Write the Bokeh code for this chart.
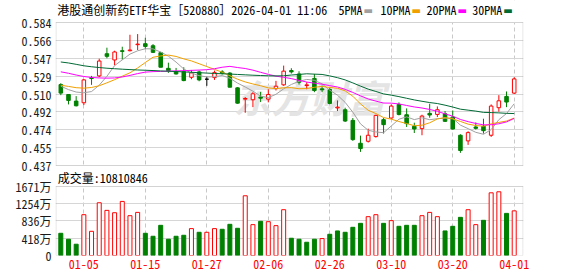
from bokeh.plotting import figure
from bokeh.models import (ColumnDataSource, FixedTicker, Label, Range1d, Grid, BoxAnnotation)
from bokeh.embed import file_html
from bokeh.resources import INLINE

FONT = "Noto Sans Mono CJK SC"

# ---------------- data ----------------
dates = ["12-29", "12-30", "12-31",
         "01-05", "01-06", "01-07", "01-08", "01-09",
         "01-12", "01-13", "01-14", "01-15", "01-16",
         "01-19", "01-20", "01-21", "01-22", "01-23",
         "01-26", "01-27", "01-28", "01-29", "01-30",
         "02-02", "02-03", "02-04", "02-05", "02-06",
         "02-09", "02-10", "02-11", "02-12", "02-13",
         "02-24", "02-25", "02-26", "02-27",
         "03-02", "03-03", "03-04", "03-05", "03-06",
         "03-09", "03-10", "03-11", "03-12", "03-13",
         "03-16", "03-17", "03-18", "03-19", "03-20",
         "03-23", "03-24", "03-25", "03-26", "03-27",
         "03-30", "03-31", "04-01"]

opens = [0.5202, 0.5100, 0.5032, 0.5015, 0.5274, 0.5291, 0.5519, 0.5455, 0.5550, 0.5550,
         0.5612, 0.5622, 0.5601, 0.5530, 0.5369, 0.5335, 0.5335, 0.5277, 0.5332, 0.5257,
         0.5274, 0.5332, 0.5320, 0.5168, 0.5052, 0.5046, 0.5073, 0.5052, 0.5160, 0.5199,
         0.5346, 0.5311, 0.5192, 0.5265, 0.5158, 0.5151, 0.4962, 0.4943, 0.4834, 0.4599,
         0.4619, 0.4667, 0.4841, 0.4858, 0.4998, 0.4892, 0.4773, 0.4749, 0.4906, 0.4895,
         0.4902, 0.4868, 0.4681, 0.4623, 0.4766, 0.4773, 0.4681, 0.4964, 0.5080, 0.5114]
highs = [0.5216, 0.5100, 0.5083, 0.5257, 0.5291, 0.5468, 0.5581, 0.5550, 0.5591, 0.5714,
         0.5721, 0.5683, 0.5618, 0.5540, 0.5427, 0.5373, 0.5380, 0.5352, 0.5346, 0.5284,
         0.5346, 0.5350, 0.5330, 0.5175, 0.5073, 0.5124, 0.5127, 0.5154, 0.5240, 0.5397,
         0.5370, 0.5339, 0.5226, 0.5311, 0.5192, 0.5168, 0.5039, 0.4964, 0.4858, 0.4677,
         0.4749, 0.4892, 0.4858, 0.4998, 0.5018, 0.4957, 0.4810, 0.4892, 0.5005, 0.4977,
         0.4930, 0.4936, 0.4691, 0.4722, 0.4813, 0.4851, 0.4998, 0.5093, 0.5131, 0.5277]
lows = [0.5093, 0.4998, 0.4977, 0.4991, 0.5199, 0.5277, 0.5472, 0.5400, 0.5458, 0.5543,
        0.5557, 0.5567, 0.5526, 0.5380, 0.5322, 0.5305, 0.5236, 0.5257, 0.5236, 0.5189,
        0.5250, 0.5305, 0.5175, 0.5005, 0.4912, 0.4970, 0.5022, 0.5019, 0.5141, 0.5189,
        0.5315, 0.5202, 0.5154, 0.5124, 0.5124, 0.4998, 0.4930, 0.4817, 0.4623, 0.4510,
        0.4606, 0.4657, 0.4698, 0.4851, 0.4885, 0.4766, 0.4704, 0.4681, 0.4861, 0.4868,
        0.4817, 0.4739, 0.4500, 0.4582, 0.4739, 0.4698, 0.4664, 0.4923, 0.4970, 0.5107]
closes = [0.5114, 0.5039, 0.4984, 0.5250, 0.5264, 0.5444, 0.5492, 0.5537, 0.5543, 0.5557,
          0.5618, 0.5594, 0.5533, 0.5380, 0.5345, 0.5311, 0.5243, 0.5322, 0.5250, 0.5257,
          0.5325, 0.5318, 0.5175, 0.5011, 0.5059, 0.5107, 0.5062, 0.5100, 0.5185, 0.5340,
          0.5332, 0.5226, 0.5199, 0.5141, 0.5148, 0.5008, 0.4970, 0.4827, 0.4636, 0.4544,
          0.4681, 0.4885, 0.4790, 0.4981, 0.4895, 0.4800, 0.4745, 0.4878, 0.4889, 0.4943,
          0.4824, 0.4745, 0.4524, 0.4708, 0.4752, 0.4728, 0.4981, 0.5035, 0.5022, 0.5260]
prev_close = 0.5190  # close of the session before the first bar (colours bar 0's volume)

# volume in 万 (10k shares)
volumes = [538, 394, 273, 988, 586, 1277, 1093, 1036, 1310, 964,
           1044, 538, 466, 731, 394, 466, 490, 651, 562, 562,
           651, 635, 755, 659, 1446, 747, 828, 819, 723, 1109,
           418, 394, 321, 394, 410, 514, 595, 562, 683, 779,
           940, 988, 779, 844, 707, 731, 731, 964, 1044, 940,
           595, 707, 924, 1109, 747, 852, 1518, 1543, 1020, 1081.0846]

ma5 = [0.5185, 0.5150, 0.5125, 0.5118, 0.5130, 0.5196, 0.5287, 0.5397, 0.5456, 0.5515,
       0.5549, 0.5570, 0.5569, 0.5536, 0.5494, 0.5433, 0.5362, 0.5320, 0.5294, 0.5280,
       0.5282, 0.5295, 0.5267, 0.5217, 0.5177, 0.5134, 0.5083, 0.5068, 0.5102, 0.5158,
       0.5203, 0.5235, 0.5255, 0.5246, 0.5209, 0.5144, 0.5093, 0.5019, 0.4918, 0.4798,
       0.4732, 0.4715, 0.4707, 0.4776, 0.4846, 0.4870, 0.4842, 0.4860, 0.4841, 0.4851,
       0.4856, 0.4856, 0.4785, 0.4749, 0.4711, 0.4691, 0.4739, 0.4841, 0.4904, 0.5005]
ma10 = [0.5195, 0.5183, 0.5170, 0.5165, 0.5172, 0.5190, 0.5220, 0.5252, 0.5288, 0.5323,
        0.5373, 0.5429, 0.5483, 0.5496, 0.5505, 0.5491, 0.5466, 0.5445, 0.5416, 0.5387,
        0.5358, 0.5329, 0.5293, 0.5257, 0.5229, 0.5208, 0.5190, 0.5168, 0.5160, 0.5169,
        0.5170, 0.5159, 0.5161, 0.5174, 0.5183, 0.5172, 0.5164, 0.5137, 0.5082, 0.5003,
        0.4938, 0.4904, 0.4863, 0.4846, 0.4822, 0.4801, 0.4779, 0.4784, 0.4809, 0.4849,
        0.4863, 0.4849, 0.4823, 0.4795, 0.4781, 0.4774, 0.4798, 0.4813, 0.4827, 0.4858]
ma20 = [0.5333, 0.5318, 0.5300, 0.5285, 0.5275, 0.5270, 0.5268, 0.5270, 0.5280, 0.5296,
        0.5315, 0.5330, 0.5335, 0.5337, 0.5340, 0.5343, 0.5345, 0.5348, 0.5351, 0.5355,
        0.5365, 0.5380, 0.5389, 0.5377, 0.5367, 0.5350, 0.5328, 0.5307, 0.5288, 0.5277,
        0.5263, 0.5245, 0.5228, 0.5216, 0.5206, 0.5191, 0.5177, 0.5153, 0.5121, 0.5086,
        0.5054, 0.5032, 0.5012, 0.5011, 0.5003, 0.4987, 0.4972, 0.4961, 0.4946, 0.4927,
        0.4901, 0.4877, 0.4843, 0.4821, 0.4802, 0.4788, 0.4789, 0.4799, 0.4818, 0.4854]
ma30 = [0.5434, 0.5424, 0.5410, 0.5395, 0.5385, 0.5377, 0.5370, 0.5365, 0.5360, 0.5356,
        0.5352, 0.5349, 0.5346, 0.5342, 0.5339, 0.5336, 0.5332, 0.5328, 0.5324, 0.5320,
        0.5316, 0.5313, 0.5310, 0.5306, 0.5302, 0.5298, 0.5295, 0.5292, 0.5291, 0.5292,
        0.5300, 0.5306, 0.5313, 0.5309, 0.5306, 0.5291, 0.5273, 0.5250, 0.5219, 0.5186,
        0.5155, 0.5131, 0.5106, 0.5093, 0.5078, 0.5061, 0.5044, 0.5030, 0.5017, 0.5007,
        0.4990, 0.4971, 0.4949, 0.4939, 0.4929, 0.4916, 0.4914, 0.4911, 0.4906, 0.4904]

price_tick_labels = ["0.437", "0.455", "0.474", "0.492", "0.510", "0.529", "0.547", "0.566", "0.584"]
volume_tick_values = [0, 418, 836, 1254, 1671]
volume_tick_labels = ["0", "418万", "836万", "1254万", "1671万"]
date_tick_labels = ["01-05", "01-15", "01-27", "02-06", "02-26", "03-10", "03-20", "04-01"]

title_text = "港股通创新药ETF华宝［520880］2026-04-01 11:06"
ma_names = ["5PMA", "10PMA", "20PMA", "30PMA"]
ma_colors = ["#a0a0a0", "#f0a000", "#ff00ff", "#006a35"]
volume_title = "成交量:10810846"
watermark = "东方财富"

# ---------------- layout constants (pixels) ----------------
W, H = 578, 276
FRAME_L, FRAME_R = 55, 523          # plotting frame (x)
BAR0_PX, BAR_STEP = 60.3, 7.685     # centre of first bar, spacing
PRICE_TOP_PX, PRICE_BOT_PX = 22, 165
VOL_TOP_PX, FRAME_BOT_PX = 186, 255

RED = "#ff0000"
GREEN = "#008000"
GRID = "#d6d6d6"
VGRID = "#c8c8c8"
BORDER = "#9a9a9a"
TXT = "#1a1a1a"

# ---------------- derived ----------------
n = len(dates)
xs = list(range(n))
line_c, fill_c = [], []
for o, c in zip(opens, closes):
    if c > o:
        line_c.append(RED); fill_c.append("white")
    elif c < o:
        line_c.append(GREEN); fill_c.append(GREEN)
    else:
        line_c.append("black"); fill_c.append("black")
tops = [max(o, c) for o, c in zip(opens, closes)]
bots = [min(o, c) for o, c in zip(opens, closes)]

vline, vfill = [], []
for i in range(n):
    pc = prev_close if i == 0 else closes[i - 1]
    if closes[i] >= pc:
        vline.append(RED); vfill.append("white")
    else:
        vline.append(GREEN); vfill.append(GREEN)

src = ColumnDataSource(dict(x=xs, h=highs, l=lows, top=tops, bot=bots,
                            lc=line_c, fc=fill_c, vol=volumes, vlc=vline, vfc=vfill,
                            ma5=ma5, ma10=ma10, ma20=ma20, ma30=ma30))

date_pos = [dates.index(d) for d in date_tick_labels]

# x range from pixel geometry
def px_to_x(px):
    return (px - BAR0_PX) / BAR_STEP

x_lo, x_hi = px_to_x(FRAME_L), px_to_x(FRAME_R)

# price scale: labels give top/bottom of the price panel
price_ticks = [float(t) for t in price_tick_labels]
p_top, p_bot = price_ticks[-1], price_ticks[0]
k = (PRICE_BOT_PX - PRICE_TOP_PX) / (p_top - p_bot)      # px per price unit
y_hi = p_top + PRICE_TOP_PX / k
y_lo = p_bot - (FRAME_BOT_PX - PRICE_BOT_PX) / k

# volume scale
v_max = volume_tick_values[-1]
kv = (FRAME_BOT_PX - VOL_TOP_PX) / v_max                 # px per volume unit
v_hi = FRAME_BOT_PX / kv

def vol_to_price(v):
    return y_lo + v * kv / k

# ---------------- figure ----------------
p = figure(width=W, height=H, x_range=Range1d(x_lo, x_hi), y_range=Range1d(y_lo, y_hi),
           output_backend="svg", toolbar_location=None,
           min_border_left=FRAME_L, min_border_right=W - FRAME_R,
           min_border_top=0, min_border_bottom=H - FRAME_BOT_PX)
p.extra_y_ranges = {"vol": Range1d(0, v_hi)}
p.outline_line_color = None
p.background_fill_color = "white"
p.border_fill_color = "white"

# combined left axis (price labels + volume labels)
vol_tick_pos = [vol_to_price(v) for v in volume_tick_values]
all_ticks = price_ticks + vol_tick_pos
overrides = {t: lab for t, lab in zip(price_ticks, price_tick_labels)}
overrides.update({t: lab for t, lab in zip(vol_tick_pos, volume_tick_labels)})
yax = p.yaxis[0]
yax.ticker = FixedTicker(ticks=all_ticks)
yax.major_label_overrides = overrides
yax.axis_line_color = None
yax.major_tick_line_color = None
yax.minor_tick_line_color = None
yax.major_tick_out = 0
yax.major_tick_in = 0
yax.major_label_standoff = 4
yax.major_label_text_font = FONT
yax.major_label_text_font_size = "12px"
yax.major_label_text_color = TXT

xax = p.xaxis[0]
xax.ticker = FixedTicker(ticks=date_pos)
xax.major_label_overrides = {pos: lab for pos, lab in zip(date_pos, date_tick_labels)}
xax.axis_line_color = None
xax.major_tick_line_color = None
xax.minor_tick_line_color = None
xax.major_tick_out = 0
xax.major_tick_in = 0
xax.major_label_standoff = 4
xax.major_label_text_font = FONT
xax.major_label_text_font_size = "12px"
xax.major_label_text_color = RED

# grids
p.ygrid.ticker = FixedTicker(ticks=price_ticks)
p.ygrid.grid_line_color = GRID
p.xgrid.ticker = FixedTicker(ticks=date_pos)
p.xgrid.grid_line_color = VGRID
p.xgrid.grid_line_dash = "4 3"
vgrid = Grid(dimension=1, y_range_name="vol", ticker=FixedTicker(ticks=volume_tick_values),
             grid_line_color=GRID)
p.add_layout(vgrid)

# white covers above the price panel and between the panels (hide dashed grid there)
p.add_layout(BoxAnnotation(bottom=p_top, fill_color="white", fill_alpha=1.0,
                           line_color=None, level="glyph"))
p.add_layout(BoxAnnotation(top=p_bot, bottom=vol_to_price(v_max), fill_color="white",
                           fill_alpha=1.0, line_color=None, level="glyph"))

# watermark
p.add_layout(Label(x=233 - FRAME_L, y=FRAME_BOT_PX - 96, x_units="screen", y_units="screen",
                   text=watermark, text_font="Noto Sans CJK SC", text_font_size="38px",
                   text_font_style="bold italic", text_color="#e4e4e4",
                   text_baseline="middle", level="underlay"))

# candles
p.segment(x0="x", y0="l", x1="x", y1="h", source=src, line_color="lc", line_width=1)
p.vbar(x="x", width=0.46, top="top", bottom="bot", source=src,
       fill_color="fc", line_color="lc", line_width=1)

for key, col in zip(["ma5", "ma10", "ma20", "ma30"], ma_colors):
    p.line(x="x", y=key, source=src, line_color=col, line_width=1)

# volume bars
p.vbar(x="x", width=0.52, top="vol", bottom=0, source=src, y_range_name="vol",
       fill_color="vfc", line_color="vlc", line_width=1)

# panel borders
bx_l, bx_r = px_to_x(FRAME_L + 0.5), px_to_x(FRAME_R - 0.5)
p.add_layout(BoxAnnotation(left=bx_l, right=bx_r, top=p_top, bottom=p_bot,
                           fill_color=None, line_color=BORDER, line_width=1, level="overlay"))
p.add_layout(BoxAnnotation(left=bx_l, right=bx_r, top=v_max, bottom=0, y_range_name="vol",
                           fill_color=None, line_color=BORDER, line_width=1, level="overlay"))

# texts
def put(text, sx, sy_from_top, color="black", font=FONT, size="12px"):
    p.add_layout(Label(x=sx - FRAME_L, y=FRAME_BOT_PX - sy_from_top,
                       x_units="screen", y_units="screen", text=text,
                       text_font=font, text_font_size=size, text_color=color,
                       text_baseline="middle"))

put(title_text, 56.7, 8.5)
leg_x = [338, 380, 426, 471.7]
for name, col, lx in zip(ma_names, ma_colors, leg_x):
    put(name, lx, 8.5)
    put("▬", lx + len(name) * 6 + 1, 9.5, color=col, font="DejaVu Sans", size="10px")
put(volume_title, 57.3, 177)

open("out.html", "w").write(file_html(p, INLINE))
